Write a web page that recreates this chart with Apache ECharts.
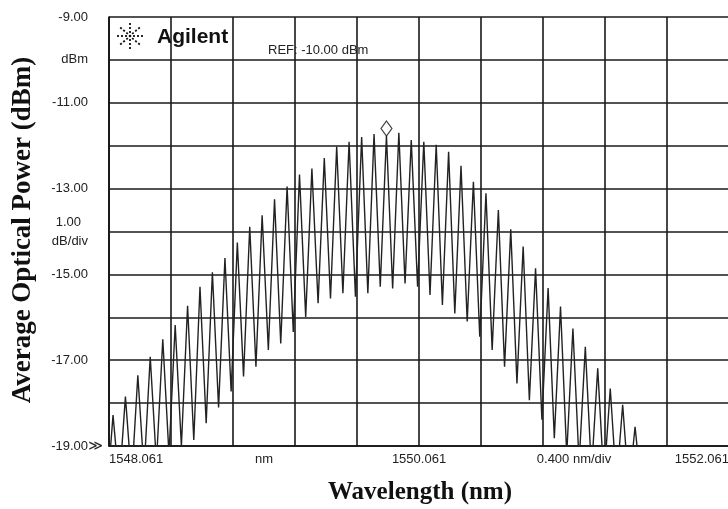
<!DOCTYPE html>
<html>
<head>
<meta charset="utf-8">
<script src="https://cdn.jsdelivr.net/npm/echarts@6/dist/echarts.min.js"></script>
<style>html,body{margin:0;padding:0;background:#fff}#c{width:728px;height:509px}</style>
</head>
<body>
<div id="c"></div>
<script>
// ---- data ----
const wavelengthNm = [
  1548.061,
  1548.087, 1548.127, 1548.167, 1548.207, 1548.247, 1548.287, 1548.327, 1548.367,
  1548.408, 1548.448, 1548.488, 1548.528, 1548.568, 1548.608, 1548.648, 1548.688,
  1548.728, 1548.768, 1548.809, 1548.849, 1548.889, 1548.929, 1548.969, 1549.009,
  1549.049, 1549.089, 1549.129, 1549.169, 1549.210, 1549.250, 1549.290, 1549.330,
  1549.370, 1549.410, 1549.450, 1549.490, 1549.530, 1549.570, 1549.610, 1549.651,
  1549.691, 1549.731, 1549.771, 1549.811, 1549.851, 1549.891, 1549.931, 1549.971,
  1550.011, 1550.052, 1550.092, 1550.132, 1550.172, 1550.212, 1550.252, 1550.292,
  1550.332, 1550.372, 1550.412, 1550.453, 1550.493, 1550.533, 1550.573, 1550.613,
  1550.653, 1550.693, 1550.733, 1550.773, 1550.813, 1550.854, 1550.894, 1550.934,
  1550.974, 1551.014, 1551.054, 1551.094, 1551.134, 1551.174, 1551.214, 1551.254,
  1551.295, 1551.335, 1551.375, 1551.415, 1551.455, 1551.495
];
const powerDbm = [
  -19.5,
  -18.28, -19.9, -17.85, -19.8, -17.35, -19.6, -16.92, -19.4,
  -16.51, -19.2, -16.18, -19.0, -15.73, -18.86, -15.29, -18.47,
  -14.95, -18.10, -14.62, -17.73, -14.26, -17.38, -13.89, -17.15,
  -13.62, -16.76, -13.25, -16.61, -12.95, -16.34, -12.67, -15.99,
  -12.53, -15.67, -12.29, -15.56, -12.02, -15.44, -11.91, -15.52,
  -11.80, -15.44, -11.73, -15.29, -11.76, -15.33, -11.70, -15.21,
  -11.87, -15.29, -11.91, -15.48, -11.98, -15.71, -12.14, -15.91,
  -12.47, -16.10, -12.84, -16.45, -13.11, -16.76, -13.50, -17.15,
  -13.95, -17.54, -14.35, -17.93, -14.86, -18.39, -15.32, -18.82,
  -15.75, -19.2, -16.26, -19.4, -16.69, -19.6, -17.19, -19.8,
  -17.66, -19.9, -18.04, -20.0, -18.55, -20.0
];
const markerWavelength = [1549.851];
const markerPower = [-11.76];

const yTickLabels = ['-9.00', 'dBm', '-11.00', '', '-13.00', '1.00\ndB/div', '-15.00', '', '-17.00', '', '-19.00'];
const xTickLabels = ['1548.061', 'nm', '1550.061', '0.400 nm/div', '1552.061'];
const refText = 'REF: -10.00 dBm';
const xTitle = 'Wavelength (nm)';
const yTitle = 'Average Optical Power (dBm)';
const logoText = 'Agilent';

const X_MIN = 1548.061, X_MAX = 1552.061;
const DIVS = 10;

// ---- chart ----
const chart = echarts.init(document.getElementById('c'), null, {renderer: 'canvas'});
const LBL = {fontFamily: 'Liberation Sans, Arial, sans-serif', fontSize: 13, color: '#222'};

// starburst logo rays (decoration)
const logoC = [130, 36];
const rays = [];
for (let i = 0; i < 8; i++) {
  const a = i * Math.PI / 4;
  rays.push({
    type: 'line',
    shape: {x1: logoC[0] + Math.cos(a) * 3, y1: logoC[1] + Math.sin(a) * 3,
            x2: logoC[0] + Math.cos(a) * 15, y2: logoC[1] + Math.sin(a) * 13},
    style: {stroke: '#111', lineWidth: 1.8, lineDash: [2, 2]}
  });
}
rays.push({type: 'circle', shape: {cx: logoC[0], cy: logoC[1], r: 1.3}, style: {fill: '#111'}});

const option = {
  animation: false,
  backgroundColor: '#fff',
  grid: {left: 109, top: 17, width: 620, height: 429, outerBoundsMode: 'none', containLabel: false},
  xAxis: [
    {
      type: 'value', min: X_MIN, max: X_MAX, interval: 0.4,
      axisLine: {show: true, lineStyle: {color: '#111', width: 1.6}},
      axisTick: {show: false},
      axisLabel: {show: false},
      splitLine: {show: true, lineStyle: {color: '#1a1a1a', width: 1.6}}
    },
    {
      // label-only axis counted in divisions (0..10), labels every 2.5 divisions
      type: 'value', min: 0, max: DIVS, interval: 2.5, position: 'bottom',
      axisLine: {show: false}, axisTick: {show: false}, splitLine: {show: false},
      axisLabel: Object.assign({
        margin: 7,
        alignMinLabel: 'left', alignMaxLabel: 'right',
        formatter: v => xTickLabels[Math.round(v / 2.5)] || ''
      }, LBL)
    }
  ],
  yAxis: {
    type: 'value', min: -19, max: -9, interval: 1,
    axisLine: {show: true, lineStyle: {color: '#111', width: 1.6}},
    axisTick: {show: false},
    splitLine: {show: true, lineStyle: {color: '#1a1a1a', width: 1.6}},
    axisLabel: Object.assign({
      margin: 6,
      formatter: v => {
        const t = yTickLabels[Math.round(-9 - v)] || '';
        if (t === '') return '';
        if (Math.round(v) === -19) return t + '{g|≫}';
        if (t.indexOf('\n') >= 0) {
          const parts = t.split('\n');
          return parts[0] + '{s2|}\n' + parts[1] + '{s|}';
        }
        return t + '{s|}';
      },
      lineHeight: 19,
      rich: {
        s: {width: 15},
        s2: {width: 22},
        g: {fontSize: 14, fontFamily: 'DejaVu Sans, sans-serif', color: '#222', width: 15, align: 'left'}
      }
    }, LBL)
  },
  graphic: [
    {type: 'group', children: rays},
    {type: 'text', x: 157, y: 37, style: {text: logoText, fontFamily: 'Liberation Sans, Arial, sans-serif', fontWeight: 'bold', fontSize: 21, fill: '#111', textVerticalAlign: 'middle'}},
    {type: 'text', x: 268, y: 50, style: {text: refText, fontFamily: 'Liberation Sans, Arial, sans-serif', fontSize: 13, fill: '#222', textVerticalAlign: 'middle'}},
    {type: 'text', x: 420, y: 493, style: {text: xTitle, fontFamily: 'Liberation Serif, Times New Roman, serif', fontWeight: 'bold', fontSize: 25, fill: '#111', textAlign: 'center', textVerticalAlign: 'middle'}},
    {type: 'text', x: 23, y: 230, rotation: Math.PI / 2, style: {text: yTitle, fontFamily: 'Liberation Serif, Times New Roman, serif', fontWeight: 'bold', fontSize: 27, fill: '#111', textAlign: 'center', textVerticalAlign: 'middle'}}
  ],
  series: [
    {
      type: 'line', xAxisIndex: 0, yAxisIndex: 0,
      data: wavelengthNm.map((w, i) => [w, powerDbm[i]]),
      showSymbol: false, symbol: 'none', clip: true,
      lineStyle: {color: '#222', width: 1.4},
      z: 3
    },
    {
      type: 'scatter', xAxisIndex: 0, yAxisIndex: 0,
      data: markerWavelength.map((w, i) => [w, markerPower[i]]),
      symbol: 'diamond', symbolSize: [11, 15], symbolOffset: [0, -7],
      itemStyle: {color: '#fff', borderColor: '#111', borderWidth: 1.2},
      z: 4
    }
  ]
};
chart.setOption(option);
</script>
</body>
</html>
